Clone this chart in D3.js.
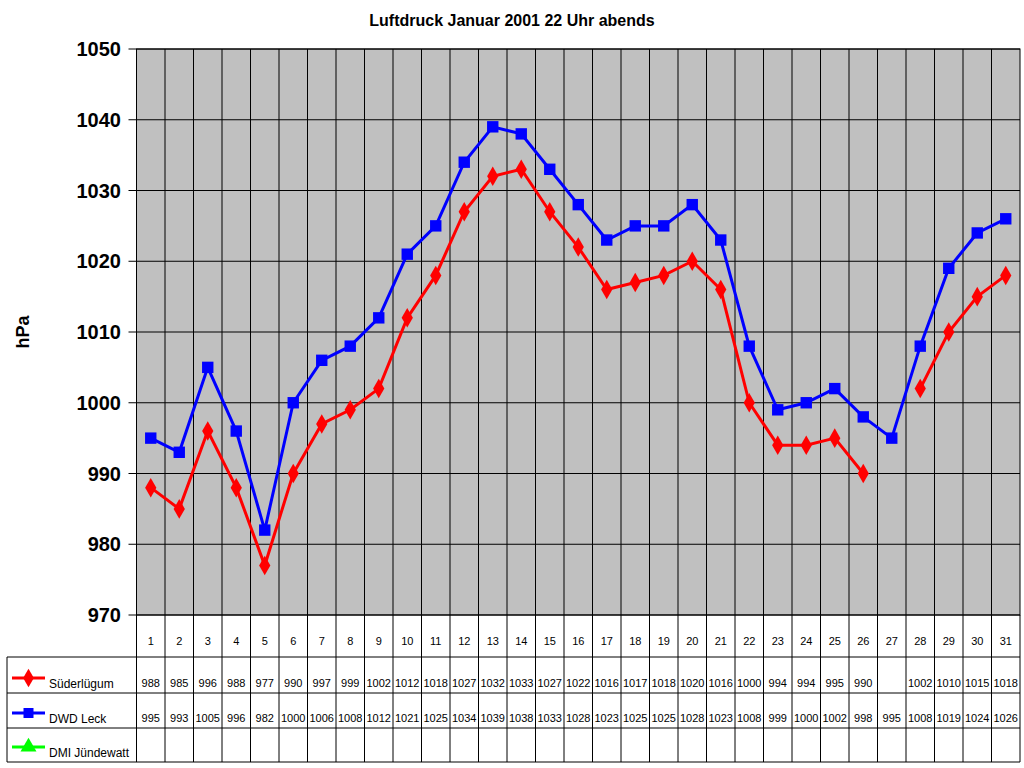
<!DOCTYPE html><html><head><meta charset="utf-8"><script src="https://cdn.jsdelivr.net/npm/d3@7"></script>
<style>body{margin:0;background:#fff}text{font-family:"Liberation Sans",Arial,sans-serif}</style></head><body><svg width="1024" height="768"></svg><script>
const days=d3.range(1,32);
const sued=[988,985,996,988,977,990,997,999,1002,1012,1018,1027,1032,1033,1027,1022,1016,1017,1018,1020,1016,1000,994,994,995,990,null,1002,1010,1015,1018];
const leck=[995,993,1005,996,982,1000,1006,1008,1012,1021,1025,1034,1039,1038,1033,1028,1023,1025,1025,1028,1023,1008,999,1000,1002,998,995,1008,1019,1024,1026];
const dmi=days.map(()=>null);
const yTicks=[970,980,990,1000,1010,1020,1030,1040,1050];
const series=[{name:"Süderlügum",v:sued,c:"#ff0000",s:d3.symbolDiamond},{name:"DWD Leck",v:leck,c:"#0000ff",s:d3.symbolSquare},{name:"DMI Jündewatt",v:dmi,c:"#00ff00",s:d3.symbolTriangle}];
const svg=d3.select("svg");
const L=136.5,R=1020,T=49,B=615;
const x=d3.scaleBand().domain(days).range([L,R]);
const y=d3.scaleLinear().domain([970,1050]).range([B,T]);
svg.append("rect").attr("x",L).attr("y",T).attr("width",R-L).attr("height",B-T).attr("fill","#c0c0c0").attr("stroke","#000");
svg.append("g").selectAll("line").data(yTicks).join("line").attr("x1",L-8).attr("x2",R).attr("y1",d=>y(d)).attr("y2",d=>y(d)).attr("stroke","#000");
svg.append("g").selectAll("line").data(days.slice(1)).join("line").attr("x1",d=>x(d)).attr("x2",d=>x(d)).attr("y1",T).attr("y2",762).attr("stroke","#000");
svg.append("g").selectAll("text").data(yTicks).join("text").attr("x",121).attr("y",d=>y(d)+7).attr("text-anchor","end").attr("font-size",20).attr("font-weight","bold").text(d=>d);
svg.append("text").attr("x",512).attr("y",26).attr("text-anchor","middle").attr("font-size",16).attr("font-weight","bold").text("Luftdruck Januar 2001 22 Uhr abends");
svg.append("text").attr("transform","translate(29,332) rotate(-90)").attr("text-anchor","middle").attr("font-size",18).attr("font-weight","bold").text("hPa");
// table
const rowY=[657,693,728,762];
svg.append("line").attr("x1",L).attr("x2",L).attr("y1",B).attr("y2",762).attr("stroke","#000");
svg.append("line").attr("x1",R).attr("x2",R).attr("y1",B).attr("y2",762).attr("stroke","#000");
svg.append("line").attr("x1",7).attr("x2",7).attr("y1",657).attr("y2",762).attr("stroke","#000");
svg.append("g").selectAll("line").data(rowY).join("line").attr("x1",7).attr("x2",R).attr("y1",d=>d).attr("y2",d=>d).attr("stroke","#000");
svg.append("g").selectAll("text").data(days).join("text").attr("x",d=>x(d)+x.bandwidth()/2).attr("y",645).attr("text-anchor","middle").attr("font-size",11).text(d=>d);
const sym=d3.symbol();
series.forEach((s,i)=>{
  const ry=rowY[i+1];
  svg.append("g").selectAll("text").data(days.filter((d,j)=>s.v[j]!=null)).join("text").attr("x",d=>x(d)+x.bandwidth()/2).attr("y",ry-6).attr("text-anchor","middle").attr("font-size",11).text(d=>s.v[d-1]);
  svg.append("line").attr("x1",12).attr("x2",45).attr("y1",ry-15).attr("y2",ry-15).attr("stroke",s.c).attr("stroke-width",3);
  svg.append("path").attr("d",sym.type(s.s).size(s.s===d3.symbolTriangle?110:100)()).attr("transform",`translate(28.5,${ry-15})`).attr("fill",s.c);
  svg.append("text").attr("x",49).attr("y",ry-5).attr("font-size",12).text(s.name);
  const line=d3.line().defined(d=>d.v!=null).x(d=>x(d.d)+x.bandwidth()/2).y(d=>y(d.v));
  const pts=days.map((d,j)=>({d,v:s.v[j]}));
  svg.append("path").attr("d",line(pts)).attr("fill","none").attr("stroke",s.c).attr("stroke-width",3);
  svg.append("g").selectAll("path").data(pts.filter(p=>p.v!=null)).join("path").attr("d",sym.type(s.s).size(s.s===d3.symbolSquare?130:110)()).attr("transform",p=>`translate(${x(p.d)+x.bandwidth()/2},${y(p.v)})`).attr("fill",s.c);
});
</script></body></html>
